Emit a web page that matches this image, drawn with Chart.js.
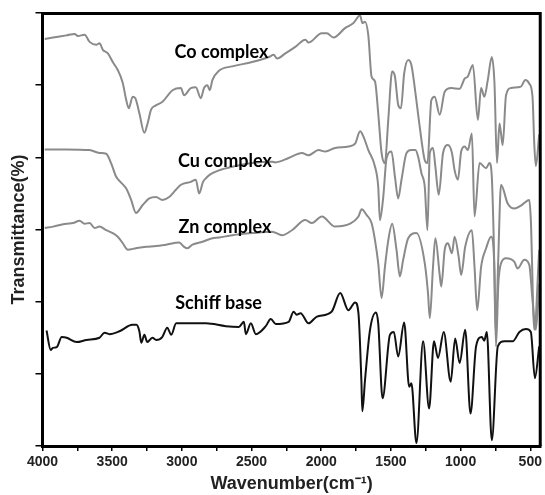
<!DOCTYPE html>
<html>
<head>
<meta charset="utf-8">
<script src="https://cdn.jsdelivr.net/npm/chart.js@4"></script>
<style>
  html, body { margin: 0; padding: 0; background: #fff; }
  #wrap { width: 545px; height: 495px; }
</style>
</head>
<body>
<div id="wrap"><canvas id="ir"></canvas></div>
<script>
// FTIR spectra, [wavenumber (cm-1), transmittance (a.u., stacked)]
const coComplex = [
  [3984,56.4],[3924,56.6],[3829,56.9],[3769,57.1],[3746,56.8],[3698,57.0],[3662,56.0],[3614,55.6],
  [3591,55.8],[3567,54.9],[3531,54.4],[3496,53.2],[3460,52.1],[3424,50.3],[3400,48.0],[3381,46.8],
  [3353,48.4],[3334,48.2],[3305,46.1],[3269,43.4],[3246,44.7],[3221,46.6],[3186,47.2],[3139,47.7],
  [3067,49.3],[3007,49.6],[2984,48.6],[2936,49.6],[2900,49.7],[2864,48.2],[2841,49.6],[2817,50.0],
  [2800,49.3],[2781,50.7],[2734,52.0],[2639,52.6],[2496,53.2],[2376,53.9],[2341,54.2],[2317,53.7],
  [2257,54.4],[2186,55.3],[2114,56.3],[2091,55.9],[1996,57.2],[1960,57.2],[1912,56.6],[1829,57.9],
  [1769,58.6],[1721,59.7],[1705,58.6],[1686,58.8],[1662,56.9],[1639,51.2],[1614,50.5],[1591,46.1],
  [1567,40.6],[1543,39.2],[1519,45.2],[1491,51.9],[1471,51.2],[1448,47.3],[1428,46.8],[1405,51.6],
  [1376,53.5],[1353,52.8],[1324,48.9],[1293,44.2],[1257,39.6],[1238,39.2],[1210,47.9],[1186,48.4],
  [1150,45.9],[1114,49.1],[1067,49.6],[1007,49.5],[971,50.9],[948,51.2],[912,52.8],[876,45.2],
  [853,49.6],[829,48.4],[805,50.7],[776,53.9],[757,50.3],[739,39.2],[721,44.7],[710,43.3],
  [698,41.7],[674,48.6],[639,49.6],[567,49.8],[536,50.7],[507,50.2],[484,48.4],[471,41.7],
  [460,38.8],[436,43.2]
];
const cuComplex = [
  [3984,41.1],[3829,41.1],[3662,41.0],[3591,40.6],[3543,40.5],[3508,39.2],[3471,37.3],[3436,36.5],
  [3400,35.7],[3364,34.1],[3329,32.3],[3281,33.4],[3234,34.3],[3186,34.5],[3139,34.1],[3091,34.5],
  [3043,35.5],[3007,36.2],[2936,36.6],[2900,36.9],[2876,35.0],[2848,36.6],[2817,37.3],[2781,37.8],
  [2734,38.2],[2639,38.7],[2496,39.2],[2353,39.4],[2329,39.3],[2234,39.9],[2139,40.6],[2091,40.3],
  [2019,41.0],[1971,40.8],[1900,41.3],[1805,41.5],[1757,41.9],[1721,43.6],[1698,42.9],[1662,41.0],
  [1614,38.7],[1591,35.9],[1579,31.3],[1555,34.5],[1531,39.9],[1496,40.8],[1471,37.3],[1448,34.3],
  [1424,36.9],[1388,40.6],[1353,41.0],[1324,41.0],[1305,40.1],[1281,37.8],[1257,35.9],[1238,29.9],
  [1221,40.6],[1198,41.3],[1181,38.7],[1157,34.8],[1126,40.6],[1091,41.7],[1062,40.6],[1043,38.2],
  [1019,36.9],[996,40.8],[971,41.5],[948,41.0],[919,43.3],[900,31.8],[864,39.2],[817,38.5],
  [793,39.2],[776,37.3],[762,28.5],[748,15.4],[730,25.8],[710,36.2],[662,33.6],[614,32.9],
  [567,33.3],[507,34.1],[496,31.3],[471,16.1],[436,27.2]
];
const znComplex = [
  [3984,30.2],[3924,30.4],[3829,30.8],[3781,30.9],[3734,31.2],[3698,30.8],[3662,30.9],[3626,30.2],
  [3591,30.4],[3543,29.9],[3496,29.5],[3460,29.0],[3424,28.1],[3400,27.4],[3389,27.2],[3329,27.4],
  [3257,27.6],[3186,27.7],[3114,27.9],[3019,28.2],[2984,27.6],[2960,27.4],[2924,27.9],[2853,28.3],
  [2781,28.8],[2734,28.9],[2639,29.2],[2496,29.5],[2353,29.7],[2281,29.2],[2210,29.9],[2114,31.3],
  [2067,30.9],[1996,31.8],[1900,30.4],[1793,30.8],[1733,31.8],[1710,32.8],[1674,32.0],[1639,30.9],
  [1614,28.5],[1591,25.3],[1567,20.5],[1543,24.8],[1519,28.5],[1491,30.8],[1460,27.2],[1436,23.5],
  [1412,25.8],[1376,28.8],[1317,29.5],[1257,25.3],[1234,21.2],[1221,17.7],[1198,24.8],[1181,28.8],
  [1150,23.7],[1139,22.1],[1114,27.2],[1091,28.1],[1062,26.7],[1043,29.0],[1014,26.2],[996,23.7],
  [967,27.6],[919,29.9],[900,24.8],[881,18.8],[853,24.8],[817,27.4],[781,29.0],[757,24.4],
  [746,13.8],[729,22.5],[710,25.3],[674,26.0],[614,25.5],[591,24.6],[543,25.8],[507,25.1],
  [484,20.2],[460,16.1],[436,22.5]
];
const schiffBase = [
  [3971,16.0],[3941,13.3],[3926,13.6],[3898,13.7],[3862,15.1],[3826,15.0],[3755,14.4],[3684,14.7],
  [3591,15.0],[3555,15.7],[3519,15.5],[3448,15.9],[3355,16.8],[3326,16.8],[3305,15.9],[3291,14.3],
  [3269,15.4],[3248,14.4],[3212,15.0],[3184,14.7],[3141,15.1],[3105,16.4],[3076,15.4],[3041,17.0],
  [2969,17.0],[2826,17.0],[2684,16.6],[2591,16.5],[2555,17.2],[2541,15.5],[2505,17.0],[2469,15.5],
  [2398,16.6],[2362,17.6],[2326,16.9],[2234,17.2],[2198,18.6],[2176,18.2],[2148,18.4],[2091,17.0],
  [2034,17.9],[1926,18.6],[1864,21.2],[1805,18.8],[1757,19.9],[1733,18.4],[1712,9.1],[1705,4.8],
  [1686,9.1],[1650,16.1],[1607,18.5],[1591,17.0],[1560,6.6],[1507,15.4],[1479,15.8],[1448,12.4],
  [1405,17.1],[1369,8.2],[1353,8.7],[1317,0.4],[1269,14.5],[1226,5.2],[1191,14.5],[1162,12.2],
  [1121,15.8],[1071,8.9],[1039,14.9],[1007,11.5],[967,16.1],[929,4.5],[889,13.8],[848,15.1],
  [830,14.6],[812,15.8],[776,0.8],[733,13.8],[686,14.5],[626,14.5],[578,15.8],[531,16.2],
  [496,15.8],[467,9.4],[436,13.8]
];

const seriesNames = ['Co complex', 'Cu complex', 'Zn complex', 'Schiff base'];
const seriesData = [coComplex, cuComplex, znComplex, schiffBase];
const seriesColors = ['#8a8a8a', '#8a8a8a', '#8a8a8a', '#111111'];
// label anchor (wavenumber, transmittance) for each curve name
const labelWavenumbers = [2716, 2691, 2691, 2737];
const labelTransmittance = [54.6, 39.4, 30.3, 19.8];
const xTickValues = [4000, 3750, 3500, 3250, 3000, 2750, 2500, 2250, 2000, 1750, 1500, 1250, 1000, 750, 500];
const xTickLabels = [4000, 3500, 3000, 2500, 2000, 1500, 1000, 500];

// curve names inside the plot
const curveLabels = {
  id: 'curveLabels',
  afterDatasetsDraw(chart) {
    const { ctx, scales: { x, y } } = chart;
    ctx.save();
    ctx.font = 'bold 18px Lato';
    ctx.fillStyle = '#000';
    ctx.textAlign = 'center';
    ctx.textBaseline = 'middle';
    seriesNames.forEach((name, i) => {
      ctx.fillText(name, x.getPixelForValue(labelWavenumbers[i]), y.getPixelForValue(labelTransmittance[i]));
    });
    ctx.restore();
  }
};

// top and right sides of the box
const frame = {
  id: 'frame',
  afterDraw(chart) {
    const { ctx, chartArea: a } = chart;
    ctx.save();
    ctx.strokeStyle = '#000';
    ctx.lineWidth = 3;
    ctx.beginPath();
    ctx.moveTo(a.left, a.top + 0.5);
    ctx.lineTo(a.right - 0.5, a.top + 0.5);
    ctx.lineTo(a.right - 0.5, a.bottom);
    ctx.stroke();
    ctx.restore();
  }
};

new Chart(document.getElementById('ir'), {
  type: 'line',
  data: {
    datasets: seriesData.map((d, i) => ({
      label: seriesNames[i],
      data: d.map(p => ({ x: p[0], y: p[1] })),
      borderColor: seriesColors[i],
      borderWidth: 2,
      pointRadius: 0,
      cubicInterpolationMode: 'monotone',
      fill: false
    }))
  },
  options: {
    responsive: true,
    maintainAspectRatio: false,
    animation: false,
    layout: { padding: { top: 13, right: 2, left: 0, bottom: 0 } },
    plugins: { legend: { display: false }, tooltip: { enabled: false } },
    scales: {
      x: {
        type: 'linear',
        reverse: true,
        min: 425,
        max: 4000,
        afterBuildTicks: (scale) => { scale.ticks = xTickValues.map(v => ({ value: v })); },
        afterFit: (scale) => { scale.height = 49; },
        border: { display: true, color: '#000', width: 3 },
        grid: { drawOnChartArea: false, drawTicks: true, tickLength: 5, color: '#000', lineWidth: 1.5 },
        ticks: {
          autoSkip: false,
          maxRotation: 0,
          padding: 3,
          color: '#222',
          font: { family: 'Liberation Sans', size: 14, weight: 'bold' },
          callback: (v) => xTickLabels.includes(v) ? String(v) : ''
        },
        title: {
          display: true,
          text: 'Wavenumber(cm\u207B\u00B9)',
          color: '#222',
          font: { family: 'Liberation Sans', size: 18, weight: 'bold' },
          padding: { top: 0, bottom: 0 }
        }
      },
      y: {
        type: 'linear',
        min: 0,
        max: 60,
        afterFit: (scale) => { scale.width = 42.5; },
        border: { display: true, color: '#000', width: 3 },
        grid: { drawOnChartArea: false, drawTicks: true, tickLength: 7, color: '#000', lineWidth: 1.5 },
        ticks: { stepSize: 10, display: false },
        title: {
          display: true,
          text: 'Transmittance(%)',
          color: '#222',
          font: { family: 'Liberation Sans', size: 18, weight: 'bold' },
          padding: { top: 8, bottom: 0 }
        }
      }
    }
  },
  plugins: [curveLabels, frame]
});
</script>
</body>
</html>
